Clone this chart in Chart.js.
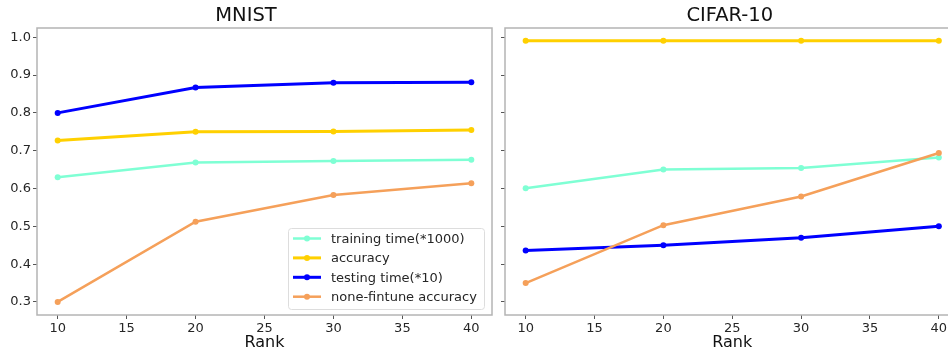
<!DOCTYPE html>
<html>
<head>
<meta charset="utf-8">
<script src="https://cdn.jsdelivr.net/npm/chart.js@4.4.1/dist/chart.umd.min.js"></script>
<style>
    html, body { margin: 0; padding: 0; background: #fff; overflow: hidden; width: 948px; height: 353px; }
    .panel { position: absolute; top: 0; height: 353px; }
    #mnistBox { left: 0; width: 500px; }
    #cifarBox { left: 500px; width: 468px; }
</style>
</head>
<body>
<div class="panel" id="mnistBox"><canvas id="mnistChart"></canvas></div>
<div class="panel" id="cifarBox"><canvas id="cifarChart"></canvas></div>
<script>
// ranks on the x axis
const ranks = [10, 20, 30, 40];
const xTicks = [10, 15, 20, 25, 30, 35, 40];
const yTicks = [0.3, 0.4, 0.5, 0.6, 0.7, 0.8, 0.9, 1.0];

const seriesNames = ['training time(*1000)', 'accuracy', 'testing time(*10)', 'none-fintune accuracy'];
const seriesColors = ['#7fffd4', '#ffd000', '#0000ff', '#f5a05a'];
const seriesWidths = [2.5, 3, 3, 2.5];

// MNIST
const mnistTraining = [0.630, 0.669, 0.673, 0.676];
const mnistAccuracy = [0.727, 0.750, 0.751, 0.755];
const mnistTesting = [0.800, 0.867, 0.880, 0.881];
const mnistNoneFinetune = [0.300, 0.512, 0.583, 0.614];

// CIFAR-10
const cifarTraining = [0.601, 0.650, 0.654, 0.682];
const cifarAccuracy = [0.991, 0.991, 0.991, 0.991];
const cifarTesting = [0.436, 0.450, 0.470, 0.500];
const cifarNoneFinetune = [0.350, 0.503, 0.579, 0.694];

const FONT = '"DejaVu Sans", sans-serif';

// box around the plot area, like matplotlib spines
const frameBox = {
    id: 'frameBox',
    beforeDatasetsDraw(chart) {
        const a = chart.chartArea;
        const ctx = chart.ctx;
        ctx.save();
        ctx.strokeStyle = '#b4b4b4';
        ctx.lineWidth = 1.5;
        ctx.strokeRect(a.left, a.top, a.right - a.left, a.bottom - a.top);
        ctx.restore();
    }
};

// legend box inside lower right of the plot area
const innerLegend = {
    id: 'innerLegend',
    afterDatasetsDraw(chart, args, opts) {
        if (!opts.show) return;
        const a = chart.chartArea;
        const ctx = chart.ctx;
        const rowH = 19.4;
        const w = 196, h = 81;
        const x0 = a.right - 8 - w;
        const y0 = a.bottom - 6 - h;
        ctx.save();
        ctx.fillStyle = 'rgba(255,255,255,0.85)';
        ctx.strokeStyle = '#dddddd';
        ctx.lineWidth = 1;
        ctx.beginPath();
        ctx.roundRect(x0 + 0.5, y0 + 0.5, w, h, 3);
        ctx.fill();
        ctx.stroke();
        ctx.font = '13px ' + FONT;
        ctx.textBaseline = 'middle';
        seriesNames.forEach((name, i) => {
            const cy = y0 + 10.5 + i * rowH;
            ctx.strokeStyle = seriesColors[i];
            ctx.lineWidth = seriesWidths[i];
            ctx.beginPath();
            ctx.moveTo(x0 + 5, cy);
            ctx.lineTo(x0 + 33, cy);
            ctx.stroke();
            ctx.fillStyle = seriesColors[i];
            ctx.beginPath();
            ctx.arc(x0 + 19, cy, 3, 0, Math.PI * 2);
            ctx.fill();
            ctx.fillStyle = '#262626';
            ctx.fillText(name, x0 + 43, cy + 1);
        });
        ctx.restore();
    }
};

function buildDatasets(values) {
    return values.map((vals, i) => ({
        label: seriesNames[i],
        data: ranks.map((r, k) => ({ x: r, y: vals[k] })),
        borderColor: seriesColors[i],
        backgroundColor: seriesColors[i],
        borderWidth: seriesWidths[i],
        pointRadius: 3,
        pointHoverRadius: 3,
        pointBorderWidth: 0,
        order: 3 - i,
        tension: 0
    }));
}

function makeChart(canvasId, title, values, showYLabels, yWidth, padRight, showLegend) {
    const ctx = document.getElementById(canvasId).getContext('2d');
    return new Chart(ctx, {
        type: 'line',
        data: { datasets: buildDatasets(values) },
        options: {
            responsive: true,
            maintainAspectRatio: false,
            animation: false,
            events: [],
            layout: { padding: { left: 0, right: padRight, top: 0, bottom: 0 } },
            plugins: {
                legend: { display: false },
                tooltip: { enabled: false },
                title: {
                    display: true,
                    text: title,
                    color: '#111',
                    font: { family: FONT, size: 19.5, weight: 'normal', lineHeight: 1.2 },
                    padding: { top: 4, bottom: 0.6 }
                },
                innerLegend: { show: showLegend }
            },
            scales: {
                x: {
                    type: 'linear',
                    min: 8.5,
                    max: 41.5,
                    afterBuildTicks: (scale) => { scale.ticks = xTicks.map(v => ({ value: v })); },
                    afterFit: (scale) => { scale.height = 38; },
                    border: { display: false },
                    grid: { drawOnChartArea: false, drawTicks: true, tickLength: 4, color: '#555' },
                    ticks: {
                        color: '#262626',
                        padding: 2,
                        maxRotation: 0,
                        font: { family: FONT, size: 13 },
                        callback: (v) => String(v)
                    },
                    title: {
                        display: true,
                        text: 'Rank',
                        color: '#111',
                        font: { family: FONT, size: 16, lineHeight: 1.2 },
                        padding: { top: 0, bottom: 0.5 }
                    }
                },
                y: {
                    type: 'linear',
                    min: 0.2655,
                    max: 1.0245,
                    afterBuildTicks: (scale) => { scale.ticks = yTicks.map(v => ({ value: v })); },
                    afterFit: (scale) => { scale.width = yWidth; },
                    border: { display: false },
                    grid: { drawOnChartArea: false, drawTicks: true, tickLength: 4, color: '#555' },
                    ticks: {
                        display: showYLabels,
                        color: '#262626',
                        padding: 2,
                        font: { family: FONT, size: 13 },
                        callback: (v) => v.toFixed(1)
                    }
                }
            }
        },
        plugins: [frameBox, innerLegend]
    });
}

makeChart('mnistChart', 'MNIST',
    [mnistTraining, mnistAccuracy, mnistTesting, mnistNoneFinetune], true, 37, 8, true);
makeChart('cifarChart', 'CIFAR-10',
    [cifarTraining, cifarAccuracy, cifarTesting, cifarNoneFinetune], false, 5, 8.5, false);
</script>
</body>
</html>
